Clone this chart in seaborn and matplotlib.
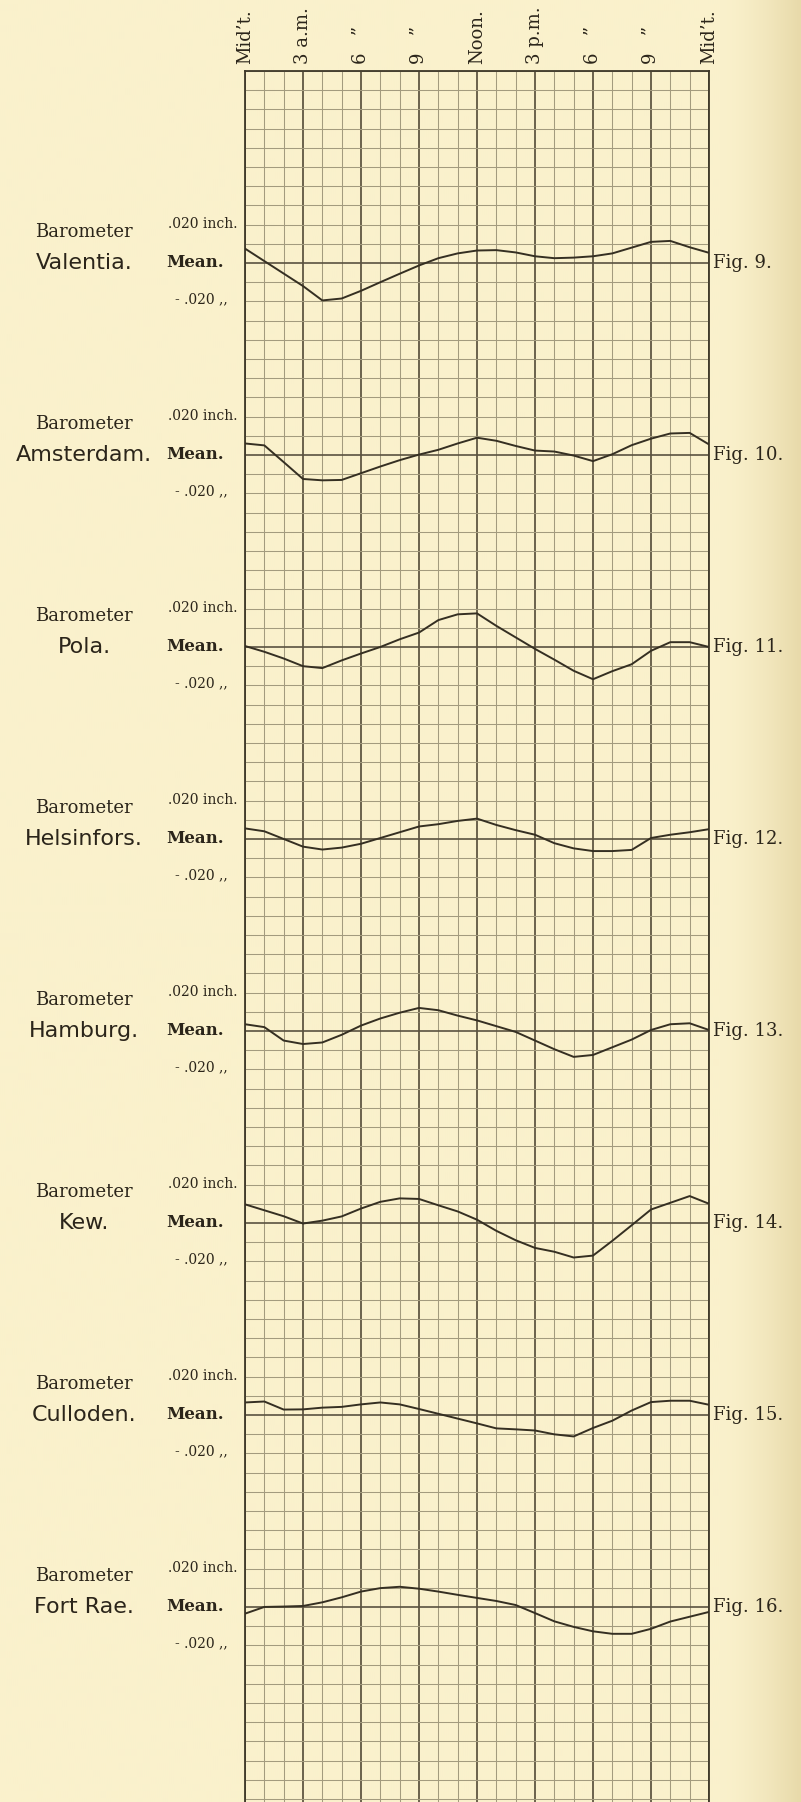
import numpy as np
import pandas as pd
import seaborn as sns
import matplotlib.pyplot as plt
from matplotlib.transforms import blended_transform_factory

sns.set_style("white")
plt.rcParams["font.family"] = ["DejaVu Serif"]

# hours from midnight to midnight
hours = list(range(25))
hour_ticks = [0, 3, 6, 9, 12, 15, 18, 21, 24]
hour_labels = ["Mid\u2019t.", "3 a.m.", "6   \u201d", "9   \u201d", "Noon.",
               "3 p.m.", "6   \u201d", "9   \u201d", "Mid\u2019t."]

stations = ["Valentia.", "Amsterdam.", "Pola.", "Helsinfors.",
            "Hamburg.", "Kew.", "Culloden.", "Fort Rae."]
fig_labels = ["Fig. 9.", "Fig. 10.", "Fig. 11.", "Fig. 12.",
              "Fig. 13.", "Fig. 14.", "Fig. 15.", "Fig. 16."]

# departure from the daily mean, thousandths of an inch
valentia = [7.5, 1.0, -5.5, -12, -19.5, -18.5, -14.5, -10, -5.6, -1.3, 2.5, 5, 6.5,
            6.7, 5.5, 3.5, 2.5, 2.8, 3.5, 5, 8, 11, 11.5, 8.2, 5.3]
amsterdam = [6, 5, -3.7, -12.5, -13.2, -13, -9.5, -6, -2.7, 0.2, 2.7, 6, 9,
             7.4, 4.7, 2.3, 1.8, -0.3, -3.2, 0.4, 5.1, 8.5, 11.2, 11.5, 5.5]
pola = [0.5, -2.5, -6, -10, -11, -7, -3.4, 0, 4, 7.5, 14, 17, 17.5,
        11, 5, -1, -6.6, -12.4, -16.8, -12.6, -9, -2, 2.5, 2.5, 0]
helsinfors = [5.5, 4, 0, -4, -5.5, -4.5, -2.5, 0.5, 3.5, 6.5, 7.7, 9.4, 10.6,
              7.3, 4.6, 2.2, -2.2, -4.9, -6.3, -6.3, -5.7, 0.5, 2.2, 3.5, 5.1]
hamburg = [3.5, 2, -5, -6.8, -6, -2, 2.8, 6.5, 9.5, 12, 10.8, 8, 5.5,
           2.5, -0.5, -5, -9.5, -13.5, -12.5, -8.5, -4.5, 0.5, 3.5, 4, 0.5]
kew = [9.7, 6.6, 3.5, -0.3, 1.2, 3.4, 7.5, 11, 12.8, 12.5, 9.2, 6.0, 1.7,
       -4.1, -9, -13, -15, -18, -17, -9.3, -1.2, 7, 10.5, 14, 10]
culloden = [6.5, 7, 2.8, 2.9, 3.8, 4.2, 5.5, 6.5, 5.5, 3.1, 0.6, -1.9, -4.4,
            -7, -7.5, -8.1, -10.1, -11.2, -6.8, -3, 2.3, 6.7, 7.4, 7.4, 5.3]
fort_rae = [-3.5, 0, 0.2, 0.5, 2.4, 5, 8, 9.8, 10.5, 9.5, 8, 6.3, 4.7,
            3.1, 1.0, -3.2, -7.5, -10.4, -12.7, -14, -14, -11.4, -7.6, -5.1, -2.6]

series = [valentia, amsterdam, pola, helsinfors, hamburg, kew, culloden, fort_rae]

# one grid row = 0.010 inch, panels every 10 rows
mean_rows = [10 * (i + 1) for i in range(len(stations))]
frames = []
for name, base, vals in zip(stations, mean_rows, series):
    frames.append(pd.DataFrame({"hour": hours, "station": name,
                                "row": [base - v / 10 for v in vals]}))
df = pd.concat(frames, ignore_index=True)

W, H = 801, 1802
paper = "#faf1cc"
ink = "#2b251a"
fig = plt.figure(figsize=(W / 100, H / 100), dpi=100)
fig.patch.set_facecolor(paper)

# paper shading toward the right edge of the scan
bg = fig.add_axes([0, 0, 1, 1], zorder=0)
xs = np.linspace(0, 1, 400)
shade = np.clip((xs - 0.9) / 0.1, 0, 1) ** 1.5
base_c = np.array([250, 241, 204]) / 255
edge_c = np.array([232, 218, 170]) / 255
grad = base_c[None, :] * (1 - shade[:, None]) + edge_c[None, :] * shade[:, None]
bg.imshow(grad[None, :, :], extent=[0, 1, 0, 1], aspect="auto")
bg.axis("off")

ax = fig.add_axes([245 / W, 0, 464 / W, 1 - 71 / H], zorder=1)
ax.patch.set_alpha(0)

sns.lineplot(data=df, x="hour", y="row", units="station", estimator=None,
             color="#352f22", lw=1.4, ax=ax, legend=False, zorder=5)

ax.set_xlim(0, 24)
ax.set_ylim(90.16, 0)
ax.set_xticks(hour_ticks)
ax.set_xticks(hours, minor=True)
ax.set_yticks(mean_rows)
ax.set_yticks(np.arange(0, 91), minor=True)
ax.grid(which="minor", color="#a39b7e", lw=0.75)
ax.grid(which="major", axis="x", color="#524a37", lw=1.2)
ax.grid(which="major", axis="y", color="#5a5240", lw=1.2)
ax.set_axisbelow(True)
ax.tick_params(which="both", length=0, labelbottom=False, labelleft=False)
ax.set_xlabel("")
ax.set_ylabel("")
for side in ["top", "left", "right"]:
    ax.spines[side].set_color("#3e3829")
    ax.spines[side].set_linewidth(1.3)
ax.spines["bottom"].set_visible(False)

# hour labels along the top
tr_top = blended_transform_factory(ax.transData, fig.transFigure)
for h, lab in zip(hour_ticks, hour_labels):
    ax.text(h, 1 - 64 / H, lab, transform=tr_top, rotation=90, ha="center",
            va="bottom", fontsize=13, color=ink)

# panel captions
tr = blended_transform_factory(fig.transFigure, ax.transData)
for name, base, flab in zip(stations, mean_rows, fig_labels):
    ax.text(84 / W, base - 1.6, "Barometer", transform=tr, ha="center",
            va="center", fontsize=13, color=ink)
    ax.text(84 / W, base, name, transform=tr, ha="center", va="center",
            fontsize=16, family="DejaVu Sans", color=ink)
    ax.text(238 / W, base - 2.05, ".020 inch.", transform=tr, ha="right",
            va="center", fontsize=10, color=ink)
    ax.text(224 / W, base, "Mean.", transform=tr, ha="right", va="center",
            fontsize=12, weight="bold", color=ink)
    ax.text(228 / W, base + 1.9, "- .020 ,,", transform=tr, ha="right",
            va="center", fontsize=10, color=ink)
    ax.text(713 / W, base, flab, transform=tr, ha="left", va="center",
            fontsize=13, color=ink)

fig.savefig("out.png", dpi=100, facecolor=paper)
